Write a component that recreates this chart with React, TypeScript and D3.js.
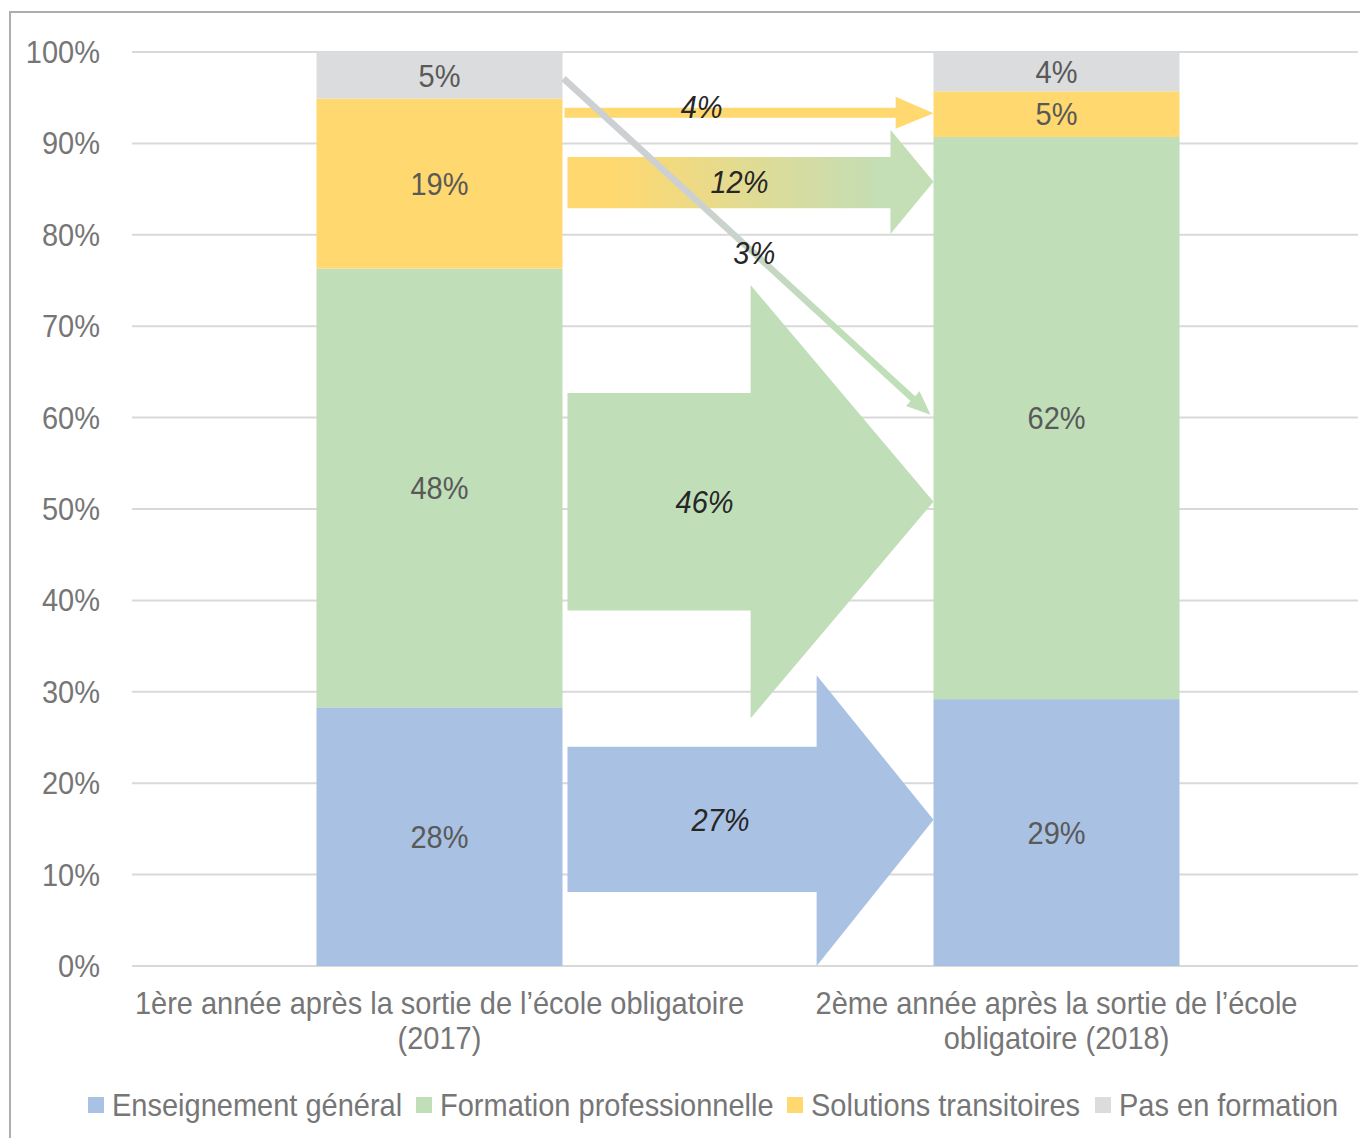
import * as d3 from 'd3'
import { useEffect, useRef } from 'react'

const categories = ['2017', '2018']
const categoryLines = [
  ['1ère année après la sortie de l’école obligatoire', '(2017)'],
  ['2ème année après la sortie de l’école', 'obligatoire (2018)'],
]
const seriesNames = ['Enseignement général', 'Formation professionnelle', 'Solutions transitoires', 'Pas en formation']
const seriesColors = ['#A9C1E3', '#C0DEB8', '#FFD86F', '#DBDCDE']
const general = [28.3, 29.2]
const professional = [48.0, 61.5]
const transitional = [18.6, 5.0]
const notInTraining = [5.1, 4.3]
const segmentLabels = [
  ['28%', '48%', '19%', '5%'],
  ['29%', '62%', '5%', '4%'],
]
const yTicks = [0, 10, 20, 30, 40, 50, 60, 70, 80, 90, 100]

// flows between the two years (values in %)
const flowLabels = ['27%', '46%', '12%', '4%']
const flowShaft = [[8.1, 24.0], [38.9, 62.7], [82.9, 88.5], [92.8, 93.9]]
const flowHead = [[0, 31.8], [27.1, 74.5], [80.1, 91.5], [91.6, 95.1]]
const flowTip = [16.0, 50.8, 85.8, 93.3]
const flowLabelY = [16.0, 50.8, 85.8, 94.0]
const lineFlow = { label: '3%', from: 97.1, to: 60.3, labelY: 78.0 }

const W = 1360
const H = 1138
const FONT = '"Liberation Sans", Arial, sans-serif'

export default function App() {
  const svgRef = useRef<SVGSVGElement | null>(null)

  useEffect(() => {
    if (!svgRef.current) return
    const svg = d3.select(svgRef.current)
    svg.selectAll('*').remove()

    const y = d3.scaleLinear().domain([0, 100]).range([966, 52])
    const x = d3.scaleBand().domain(categories).range([132, 1364]).paddingInner(0.6013).paddingOuter(0.299)
    const bw = x.bandwidth()

    const defs = svg.append('defs')
    const g1 = defs.append('linearGradient').attr('id', 'gradYG').attr('x1', '0%').attr('x2', '100%')
    g1.append('stop').attr('offset', '0.12').attr('stop-color', '#FFD86F')
    g1.append('stop').attr('offset', '0.85').attr('stop-color', '#C4DEB5')
    const g2 = defs.append('linearGradient').attr('id', 'gradGG').attr('gradientUnits', 'userSpaceOnUse')
    g2.append('stop').attr('offset', '0.35').attr('stop-color', '#CDD0D2')
    g2.append('stop').attr('offset', '0.75').attr('stop-color', '#C0DEB8')

    // frame
    svg.append('rect').attr('x', 10).attr('y', 12).attr('width', W).attr('height', H)
      .attr('fill', 'none').attr('stroke', '#ADADAD').attr('stroke-width', 2)

    // grid
    svg.append('g').selectAll('line').data(yTicks).enter().append('line')
      .attr('x1', 132).attr('x2', 1358)
      .attr('y1', d => y(d)).attr('y2', d => y(d))
      .attr('stroke', '#D9D9D9').attr('stroke-width', 2)

    const txt = (sel: any, s = 29) =>
      sel.attr('font-family', FONT).attr('font-size', s)

    svg.append('g').selectAll('text').data(yTicks).enter().append('text')
      .attr('transform', d => `translate(100,${y(d)}) scale(1,1.06)`)
      .attr('text-anchor', 'end').attr('dy', '0.36em')
      .attr('fill', '#767676')
      .call(txt)
      .text(d => `${d}%`)

    // stacked bars
    const table = categories.map((c, i) => ({
      cat: c,
      s0: general[i], s1: professional[i], s2: transitional[i], s3: notInTraining[i],
    }))
    const stack = d3.stack<any>().keys(['s0', 's1', 's2', 's3'])(table)
    stack.forEach((layer, k) => {
      svg.append('g').selectAll('rect').data(layer).enter().append('rect')
        .attr('x', d => x(d.data.cat)!)
        .attr('width', bw)
        .attr('y', d => y(d[1]))
        .attr('height', d => y(d[0]) - y(d[1]))
        .attr('fill', seriesColors[k])
      svg.append('g').selectAll('text').data(layer).enter().append('text')
        .attr('transform', d => `translate(${x(d.data.cat)! + bw / 2},${y((d[0] + d[1]) / 2)}) scale(1,1.08)`)
        .attr('text-anchor', 'middle').attr('dy', '0.36em')
        .attr('fill', '#595959')
        .call(txt)
        .text((_, i) => segmentLabels[i][k])
    })

    // flow arrows
    const x0 = x(categories[0])! + bw
    const x1 = x(categories[1])!
    const gap = x1 - x0
    const headBase = [0.685, 0.507, 0.884, 0.898]
    const shaftStart = [5, 5, 5, 2]
    const labelX = [0.426, 0.383, 0.477, 0.375]
    const fills = ['#A9C1E3', '#C0DEB8', 'url(#gradYG)', '#FFD86F']
    flowLabels.forEach((_, i) => {
      const xs = x0 + shaftStart[i]
      const xh = x0 + gap * headBase[i]
      const pts: [number, number][] = [
        [xs, y(flowShaft[i][1])],
        [xh, y(flowShaft[i][1])],
        [xh, y(flowHead[i][1])],
        [x1, y(flowTip[i])],
        [xh, y(flowHead[i][0])],
        [xh, y(flowShaft[i][0])],
        [xs, y(flowShaft[i][0])],
      ]
      svg.append('path').attr('d', d3.line()(pts) + 'Z').attr('fill', fills[i])
    })

    // 3% line arrow
    const lx0 = x0 + 1
    const ly0 = y(lineFlow.from)
    const tipX = x1 - 3
    const tipY = y(lineFlow.to)
    const ang = Math.atan2(tipY - ly0, tipX - lx0)
    const hl = 24
    const hw = 10
    const bx = tipX - hl * Math.cos(ang)
    const by = tipY - hl * Math.sin(ang)
    g2.attr('x1', lx0).attr('y1', ly0).attr('x2', tipX).attr('y2', tipY)
    svg.append('line').attr('x1', lx0).attr('y1', ly0).attr('x2', bx + 2 * Math.cos(ang)).attr('y2', by + 2 * Math.sin(ang))
      .attr('stroke', 'url(#gradGG)').attr('stroke-width', 6.5)
    svg.append('path')
      .attr('d', d3.line()([
        [tipX, tipY],
        [bx + hw * Math.sin(ang), by - hw * Math.cos(ang)],
        [bx - hw * Math.sin(ang), by + hw * Math.cos(ang)],
      ]) + 'Z')
      .attr('fill', '#C0DEB8')

    // flow labels
    flowLabels.forEach((lab, i) => {
      svg.append('text')
        .attr('transform', `translate(${x0 + gap * labelX[i]},${y(flowLabelY[i])}) scale(1,1.06)`)
        .attr('text-anchor', 'middle').attr('dy', '0.36em')
        .attr('font-style', 'italic').attr('fill', '#262626')
        .call(txt)
        .text(lab)
    })
    svg.append('text')
      .attr('transform', `translate(${x0 + gap * 0.517},${y(lineFlow.labelY)}) scale(1,1.06)`)
      .attr('text-anchor', 'middle').attr('dy', '0.36em')
      .attr('font-style', 'italic').attr('fill', '#262626')
      .call(txt)
      .text(lineFlow.label)

    // category labels
    categories.forEach((c, i) => {
      categoryLines[i].forEach((ln, j) => {
        svg.append('text')
          .attr('transform', `translate(${x(c)! + bw / 2},${1003 + j * 35}) scale(1,1.08)`)
          .attr('text-anchor', 'middle').attr('dy', '0.36em')
          .attr('fill', '#767676')
          .call(txt)
          .text(ln)
      })
    })

    // legend
    const legX = [88, 416, 787, 1095]
    seriesNames.forEach((n, i) => {
      svg.append('rect').attr('x', legX[i]).attr('y', 1097).attr('width', 16).attr('height', 16)
        .attr('fill', seriesColors[i])
      svg.append('text')
        .attr('transform', `translate(${legX[i] + 24},${1105}) scale(1,1.08)`)
        .attr('dy', '0.36em')
        .attr('fill', '#767676')
        .call(txt)
        .text(n)
    })
  }, [])

  return (
    <svg ref={svgRef} width={W} height={H}
      style={{ position: 'absolute', left: 0, top: 0, background: '#fff' }} />
  )
}
